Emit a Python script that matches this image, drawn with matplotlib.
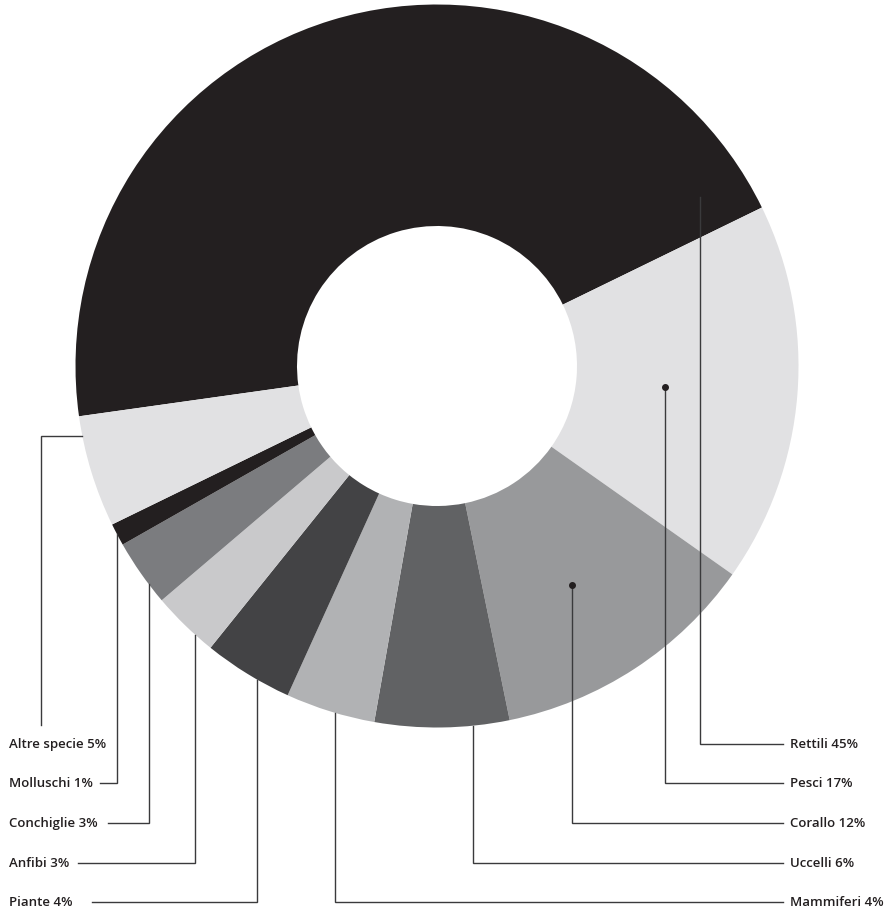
import numpy as np
import matplotlib.pyplot as plt

# share of each group, clockwise from the left
labels = ["Rettili", "Pesci", "Corallo", "Uccelli", "Mammiferi",
          "Piante", "Anfibi", "Conchiglie", "Molluschi", "Altre specie"]
values = [45, 17, 12, 6, 4, 4, 3, 3, 1, 5]
colors = ["#231f20", "#e1e1e3", "#98999b", "#616264", "#b1b2b4",
          "#434345", "#c9c9cb", "#7b7c7f", "#231f20", "#e1e1e3"]

W, H = 886, 912
cx, cy = 437, H - 367
R = 361.5
r_in = 140

fig = plt.figure(figsize=(W / 100, H / 100), dpi=100)
ax = fig.add_axes([0, 0, 1, 1])
ax.set_xlim(0, W)
ax.set_ylim(0, H)
ax.set_aspect("equal")
ax.axis("off")

ax.pie(values, colors=colors, startangle=188, counterclock=False,
       center=(cx, cy), radius=R,
       wedgeprops=dict(width=R - r_in, linewidth=0))
ax.set_xlim(0, W)
ax.set_ylim(0, H)


def edge_y(x):
    # lower outer rim of the ring at a given x
    return cy - np.sqrt(R ** 2 - (x - cx) ** 2)


def edge_x(y):
    return cx - np.sqrt(R ** 2 - (y - cy) ** 2)


txt = dict(fontsize=9.5, fontfamily="Open Sans", fontweight="semibold",
           color="#231f20", va="center")
lc = "#3a3a3c"
lw = 1.0

rows = [H - 745, H - 784, H - 824, H - 864, H - 903]

# right column: Rettili, Pesci, Corallo, Uccelli, Mammiferi
right = [("Rettili", 700, H - 198, False),
         ("Pesci", 665, H - 388, True),
         ("Corallo", 572, H - 586, True),
         ("Uccelli", 473, None, False),
         ("Mammiferi", 335, None, False)]
for (name, x0, y0, dot), y in zip(right, rows):
    if y0 is None:
        y0 = edge_y(x0)
    ax.plot([x0, x0, 783], [y0, y, y], color=lc, lw=lw, solid_joinstyle="miter")
    if dot:
        ax.plot(x0, y0, "o", color="#231f20", ms=4)
    v = values[labels.index(name)]
    ax.text(790, y, f"{name} {v}%", ha="left", **txt)

# left column
v = values[labels.index("Altre specie")]
ya = H - 437
ax.plot([edge_x(ya), 41, 41], [ya, ya, H - 726], color=lc, lw=lw,
        solid_joinstyle="miter")
ax.text(9, rows[0], f"Altre specie {v}%", ha="left", **txt)

left = [("Molluschi", 117, 100), ("Conchiglie", 149, 108),
        ("Anfibi", 195, 78), ("Piante", 257, 92)]
for (name, x0, xs), y in zip(left, rows[1:]):
    ax.plot([x0, x0, xs], [edge_y(x0), y, y], color=lc, lw=lw,
            solid_joinstyle="miter")
    v = values[labels.index(name)]
    ax.text(9, y, f"{name} {v}%", ha="left", **txt)

fig.savefig("out.png", dpi=100, facecolor="white")
